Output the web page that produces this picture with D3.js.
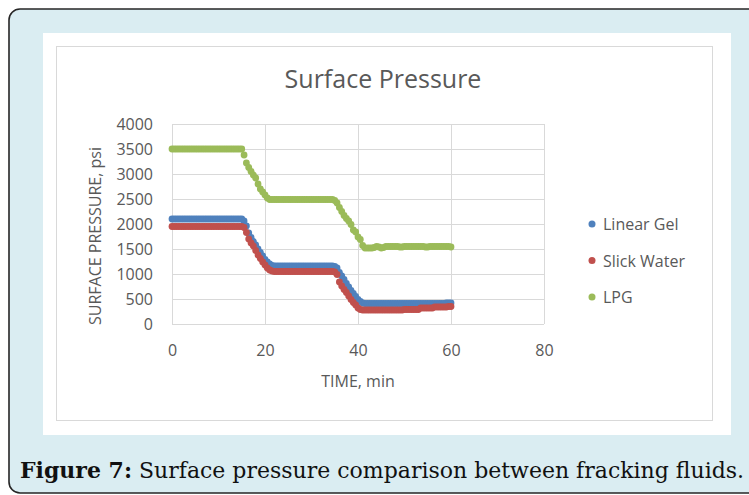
<!DOCTYPE html>
<html>
<head>
<meta charset="utf-8">
<script src="https://cdn.jsdelivr.net/npm/d3@7"></script>
<style>
  body { margin: 0; background: #fff; }
  svg { display: block; }
</style>
</head>
<body>
<div id="chart"></div>
<script>
// Chart data
//

var time_min = [
  0, 0.5, 1, 1.5, 2, 2.5, 3, 3.5, 4, 4.5, 5, 5.5, 6, 6.5, 7, 7.5, 8, 8.5, 9, 9.5,
  10, 10.5, 11, 11.5, 12, 12.5, 13, 13.5, 14, 14.5, 15, 15.5, 16, 16.5, 17, 17.5, 18, 18.5, 19, 19.5,
  20, 20.5, 21, 21.5, 22, 22.5, 23, 23.5, 24, 24.5, 25, 25.5, 26, 26.5, 27, 27.5, 28, 28.5, 29, 29.5,
  30, 30.5, 31, 31.5, 32, 32.5, 33, 33.5, 34, 34.5, 35, 35.5, 36, 36.5, 37, 37.5, 38, 38.5, 39, 39.5,
  40, 40.5, 41, 41.5, 42, 42.5, 43, 43.5, 44, 44.5, 45, 45.5, 46, 46.5, 47, 47.5, 48, 48.5, 49, 49.5,
  50, 50.5, 51, 51.5, 52, 52.5, 53, 53.5, 54, 54.5, 55, 55.5, 56, 56.5, 57, 57.5, 58, 58.5, 59, 59.5,
  60
];

var linear_gel = [
  2100, 2100, 2100, 2100, 2100, 2100, 2100, 2100, 2100, 2100, 2100, 2100, 2100, 2100, 2100, 2100, 2100, 2100, 2100, 2100,
  2100, 2100, 2100, 2100, 2100, 2100, 2100, 2100, 2100, 2100, 2100, 2060, 1960, 1820, 1730, 1650, 1580, 1500, 1430, 1360,
  1290, 1240, 1200, 1170, 1160, 1160, 1160, 1160, 1160, 1160, 1160, 1160, 1160, 1160, 1160, 1160, 1160, 1160, 1160, 1160,
  1160, 1160, 1160, 1160, 1160, 1160, 1160, 1160, 1160, 1160, 1150, 1120, 1030, 960, 890, 810, 740, 670, 610, 550,
  490, 450, 420, 410, 410, 410, 410, 410, 410, 410, 410, 410, 410, 410, 410, 410, 410, 410, 410, 410,
  410, 410, 410, 410, 410, 410, 410, 410, 410, 410, 410, 410, 410, 410, 410, 410, 410, 410, 420, 420,
  420
];

var slick_water = [
  1950, 1950, 1950, 1950, 1950, 1950, 1950, 1950, 1950, 1950, 1950, 1950, 1950, 1950, 1950, 1950, 1950, 1950, 1950, 1950,
  1950, 1950, 1950, 1950, 1950, 1950, 1950, 1950, 1950, 1950, 1950, 1930, 1830, 1700, 1620, 1560, 1470, 1380, 1310, 1240,
  1180, 1120, 1080, 1060, 1050, 1050, 1050, 1050, 1050, 1050, 1050, 1050, 1050, 1050, 1050, 1050, 1050, 1050, 1050, 1050,
  1050, 1050, 1050, 1050, 1050, 1050, 1050, 1050, 1050, 1050, 1040, 990, 840, 760, 690, 630, 560, 490, 430, 380,
  320, 290, 280, 280, 280, 280, 280, 280, 280, 280, 280, 280, 280, 280, 280, 280, 280, 280, 280, 280,
  290, 290, 290, 290, 290, 290, 290, 320, 320, 320, 320, 320, 320, 340, 340, 340, 340, 340, 340, 350,
  350
];

var lpg = [
  3500, 3500, 3500, 3500, 3500, 3500, 3500, 3500, 3500, 3500, 3500, 3500, 3500, 3500, 3500, 3500, 3500, 3500, 3500, 3500,
  3500, 3500, 3500, 3500, 3500, 3500, 3500, 3500, 3500, 3500, 3500, 3380, 3220, 3130, 3050, 2980, 2920, 2800, 2700, 2640,
  2580, 2520, 2490, 2490, 2490, 2490, 2490, 2490, 2490, 2490, 2490, 2490, 2490, 2490, 2490, 2490, 2490, 2490, 2490, 2490,
  2490, 2490, 2490, 2490, 2490, 2490, 2490, 2490, 2490, 2490, 2470, 2420, 2330, 2250, 2170, 2110, 2060, 1990, 1880, 1840,
  1740, 1690, 1570, 1520, 1520, 1520, 1520, 1530, 1550, 1540, 1520, 1530, 1550, 1550, 1550, 1550, 1550, 1550, 1540, 1540,
  1550, 1550, 1550, 1550, 1550, 1550, 1550, 1550, 1550, 1540, 1540, 1550, 1550, 1550, 1550, 1550, 1550, 1550, 1550, 1550,
  1540
];

var series_names = ["Linear Gel", "Slick Water", "LPG"];
var series_values = [linear_gel, slick_water, lpg];
var series_colors = ["#4f81bd", "#c0504d", "#9bbb59"];

var x_ticks = [0, 20, 40, 60, 80];
var y_ticks = [0, 500, 1000, 1500, 2000, 2500, 3000, 3500, 4000];

var chart_title = "Surface Pressure";
var x_title = "TIME, min";
var y_title = "SURFACE PRESSURE, psi";
var caption_bold = "Figure 7:";
var caption_text = " Surface pressure comparison between fracking fluids.";

// Layout
//

var width = 749, height = 495;
var font = "'Open Sans', sans-serif";
var text_color = "#595959";
var grid_color = "#d9d9d9";

var plot = {left: 172, right: 544, top: 124, bottom: 324};

var svg = d3.select("#chart").append("svg")
  .attr("width", width)
  .attr("height", height);

// outer frame, white panel and chart area border
svg.append("rect")
  .attr("x", 9).attr("y", 9)
  .attr("width", 770).attr("height", 484)
  .attr("rx", 11)
  .attr("fill", "#daedf2")
  .attr("stroke", "#262626")
  .attr("stroke-width", 1.6);

svg.append("rect")
  .attr("x", 43).attr("y", 33)
  .attr("width", 688).attr("height", 402)
  .attr("fill", "#fff");

svg.append("rect")
  .attr("x", 56.5).attr("y", 46.5)
  .attr("width", 656).attr("height", 374)
  .attr("fill", "#fff")
  .attr("stroke", grid_color)
  .attr("stroke-width", 1);

// scales
var x = d3.scaleLinear().domain([0, 80]).range([plot.left, plot.right]);
var y = d3.scaleLinear().domain([0, 4000]).range([plot.bottom, plot.top]);

// gridlines
var grid = svg.append("g").attr("stroke", grid_color).attr("stroke-width", 1);

grid.selectAll("line.h")
  .data(y_ticks)
  .enter()
  .append("line")
  .attr("class", "h")
  .attr("x1", plot.left).attr("x2", plot.right)
  .attr("y1", function(d) { return Math.round(y(d)) + 0.5; })
  .attr("y2", function(d) { return Math.round(y(d)) + 0.5; });

grid.selectAll("line.v")
  .data(x_ticks)
  .enter()
  .append("line")
  .attr("class", "v")
  .attr("y1", plot.top).attr("y2", plot.bottom)
  .attr("x1", function(d) { return Math.round(x(d)) + 0.5; })
  .attr("x2", function(d) { return Math.round(x(d)) + 0.5; });

// axes (labels only, lines come from the grid)
var x_axis = svg.append("g")
  .attr("transform", "translate(0," + plot.bottom + ")")
  .call(d3.axisBottom(x).tickValues(x_ticks).tickSize(0).tickPadding(21));

var y_axis = svg.append("g")
  .attr("transform", "translate(" + plot.left + ",0)")
  .call(d3.axisLeft(y).tickValues(y_ticks).tickSize(0).tickPadding(19).tickFormat(d3.format("d")));

[x_axis, y_axis].forEach(function(a) {
  a.select(".domain").remove();
  a.selectAll("text")
    .attr("fill", text_color)
    .style("font-family", font)
    .style("font-size", "16px");
});

// the series, drawn as markers only
series_values.forEach(function(vals, k) {
  svg.append("g")
    .attr("fill", series_colors[k])
    .selectAll("circle")
    .data(vals)
    .enter()
    .append("circle")
    .attr("cx", function(d, i) { return x(time_min[i]); })
    .attr("cy", function(d) { return y(d); })
    .attr("r", 3.4);
});

// titles
svg.append("text")
  .attr("x", 383).attr("y", 88)
  .attr("text-anchor", "middle")
  .attr("fill", text_color)
  .style("font-family", font)
  .style("font-size", "25px")
  .text(chart_title);

svg.append("text")
  .attr("x", (plot.left + plot.right) / 2).attr("y", 387)
  .attr("text-anchor", "middle")
  .attr("fill", text_color)
  .style("font-family", font)
  .style("font-size", "16px")
  .text(x_title);

svg.append("text")
  .attr("transform", "translate(101,236) rotate(-90)")
  .attr("text-anchor", "middle")
  .attr("fill", text_color)
  .style("font-family", font)
  .style("font-size", "16px")
  .text(y_title);

// legend
var legend = svg.append("g").attr("transform", "translate(592,224)");
series_names.forEach(function(name, k) {
  var row = legend.append("g").attr("transform", "translate(0," + (k * 36.5) + ")");
  row.append("circle").attr("r", 3.5).attr("fill", series_colors[k]);
  row.append("text")
    .attr("x", 11).attr("y", 6)
    .attr("fill", text_color)
    .style("font-family", font)
    .style("font-size", "16px")
    .text(name);
});

// figure caption
var caption = svg.append("text")
  .attr("x", 20).attr("y", 478)
  .attr("fill", "#111")
  .style("font-family", "'DejaVu Serif', serif")
  .style("font-size", "22px");
caption.append("tspan").attr("font-weight", "bold").text(caption_bold);
caption.append("tspan").text(caption_text);
</script>
</body>
</html>
